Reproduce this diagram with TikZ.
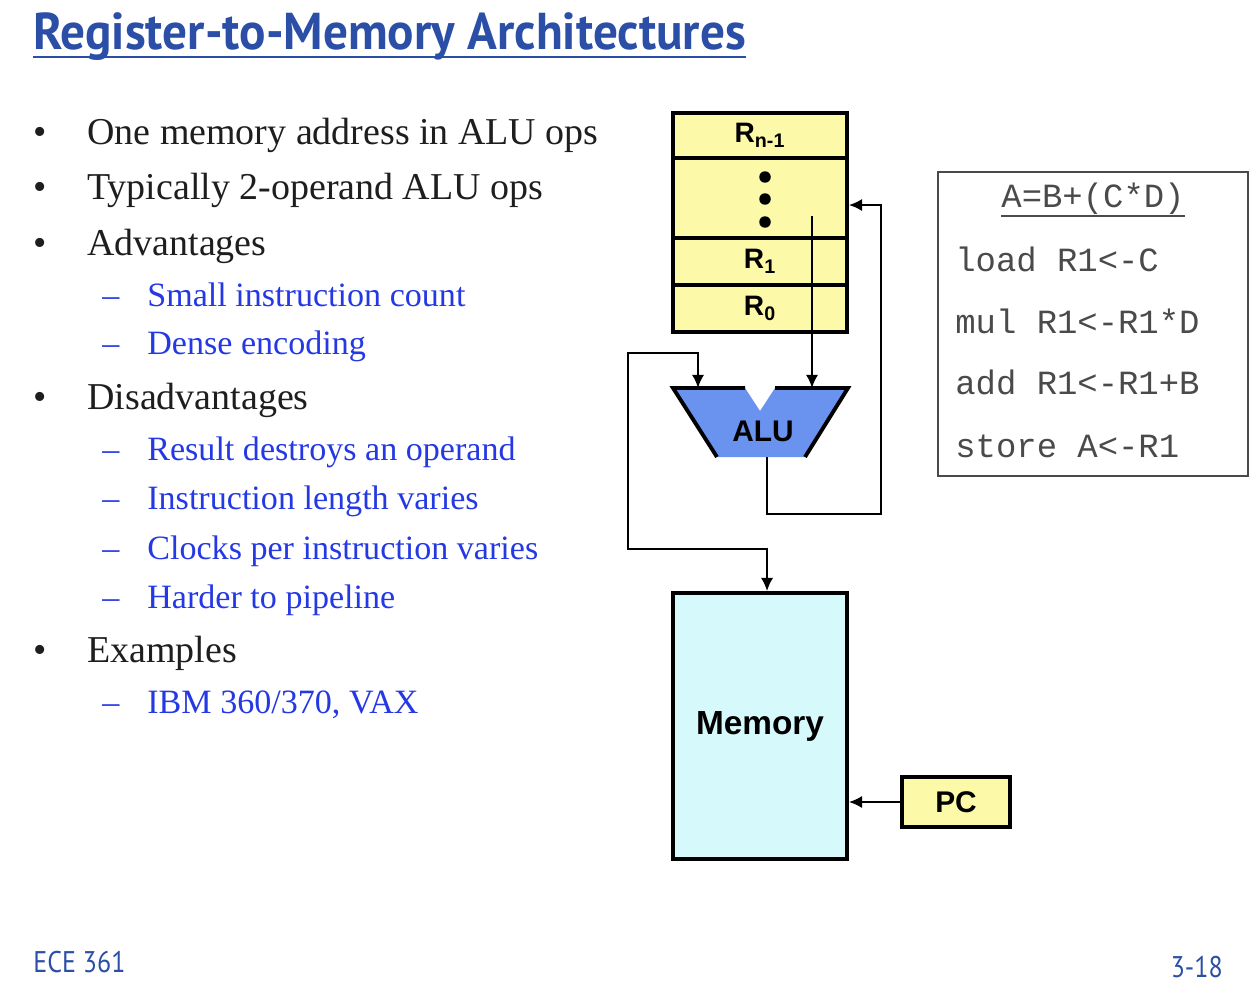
\documentclass[tikz,border=0pt]{standalone}
\usepackage{fontspec}
\setmainfont{Liberation Serif}
\setsansfont{Liberation Sans}
\setmonofont{Liberation Mono}
\newfontfamily\slidefont[FakeStretch=0.87]{PT Sans}
\newfontfamily\headfont[FakeStretch=0.95]{PT Sans}
\usepackage{tikz}
\usetikzlibrary{arrows.meta,positioning}
\definecolor{ink}{HTML}{1E1E1E}
\definecolor{titleblue}{HTML}{2B4EA6}
\definecolor{subblue}{HTML}{2438E4}
\definecolor{regyellow}{HTML}{FCF9A8}
\definecolor{alublue}{HTML}{6A93F0}
\definecolor{memcyan}{HTML}{D6FAFC}
\definecolor{codegray}{HTML}{4A4A4A}

\begin{document}
\begin{tikzpicture}[x=0.02cm,y=-0.02cm,
      main/.style={anchor=base west,inner sep=0pt,text=ink,
                   font=\fontsize{21.6}{26}\selectfont},
      sub/.style={anchor=base west,inner sep=0pt,text=subblue,
                  font=\fontsize{19.4}{23}\selectfont},
      bul/.style={anchor=base,inner sep=0pt,text=ink,
                  font=\fontsize{21.6}{26}\selectfont},
      dsh/.style={anchor=base,inner sep=0pt,text=subblue,
                  font=\fontsize{19.4}{23}\selectfont},
      blk/.style={draw,line width=2.2pt,inner sep=0pt,
                  font=\sffamily\bfseries\fontsize{16}{18}\selectfont},
      reg/.style={blk,fill=regyellow,minimum width=3.48cm},
      wire/.style={line width=1.2pt,-{Latex[length=7.5pt,width=7pt]}},
      code/.style={inner sep=0pt,text=codegray,
                   font=\ttfamily\fontsize{19.3}{22}\selectfont}]
    \useasboundingbox (0,0) rectangle (1256,1000);

    % title and footer
    \node[anchor=base west,inner sep=0pt,text=titleblue,
          font=\headfont\bfseries\fontsize{29.5}{33}\selectfont]
          (title) at (33,50) {Register-to-Memory Architectures};
    \draw[titleblue,line width=1.2pt] ([yshift=-4pt]title.base west)
      -- ([yshift=-4pt]title.base east);
    \node[anchor=base west,inner sep=0pt,text=titleblue,
          font=\slidefont\fontsize{17}{20}\selectfont] (course) at (33,972) {ECE 361};
    \node[anchor=base east,inner sep=0pt,text=titleblue,
          font=\slidefont\fontsize{17}{20}\selectfont] (page) at (1223,977) {3-18};

    % bullet list
    \foreach \y in {145,199,255,409,662}
      \node[bul] (m\y) at (40,\y) {•};
    \foreach \y in {306,354,460,509,559,608,713}
      \node[dsh] (d\y) at (111,\y) {–};
    \node[main] (one) at (87,145) {One memory address in ALU ops};
    \node[main] (typ) at (87,199) {Typically 2-operand ALU ops};
    \node[main] (adv) at (87,255) {Advantages};
    \node[sub] (cnt) at (147,306) {Small instruction count};
    \node[sub] (dense) at (147,354) {Dense encoding};
    \node[main] (dis) at (87,409) {Disadvantages};
    \node[sub] (res) at (147,460) {Result destroys an operand};
    \node[sub] (len) at (147,509) {Instruction length varies};
    \node[sub] (cpi) at (147,559) {Clocks per instruction varies};
    \node[sub] (pipe) at (147,608) {Harder to pipeline};
    \node[main] (ex) at (87,662) {Examples};
    \node[sub] (ibm) at (147,713) {IBM 360/370, VAX};

    % register file
    \node[reg,minimum height=0.9cm] (rn) at (760,135.5) {R\textsubscript{n-1}};
    \node[reg,minimum height=1.6cm] (rdots) at (760,198) {};
    \node[reg,minimum height=0.94cm] (r1) at (760,261.5) {R\textsubscript{1}};
    \node[reg,minimum height=0.94cm] (r0) at (760,308.5) {R\textsubscript{0}};
    \foreach \y in {177,199,222}
      \fill (765,\y) circle (0.115cm);

    % alu
    \fill[alublue] (673,388) -- (745,388) -- (760,411) -- (775,388)
      -- (848,388) -- (805,457) -- (717,457) -- cycle;
    \draw[line width=2.2pt,line join=miter] (745,388) -- (673,388) -- (717,457);
    \draw[line width=2.2pt,line join=miter] (775,388) -- (848,388) -- (805,457);
    \node[font=\sffamily\bfseries\fontsize{17}{20}\selectfont] (alu) at (763,431) {ALU};
    \coordinate (aluL) at (698,388);
    \coordinate (aluR) at (812,388);
    \coordinate (aluO) at (767,457);
    \coordinate (rtap) at (812,216);

    % memory, pc
    \node[blk,fill=memcyan,minimum width=3.48cm,minimum height=5.32cm,
          font=\sffamily\bfseries\fontsize{19}{22}\selectfont] (mem) at (760,726) {\raisebox{-3pt}{Memory}};
    \node[blk,fill=regyellow,minimum width=2.16cm,minimum height=1cm,
          font=\sffamily\bfseries\fontsize{17}{20}\selectfont] (pc) at (956,802) {PC};

    % wires
    \draw[wire] (rtap) -- (aluR);
    \draw[wire] (aluO) |- (881,514) |- ([yshift=-4pt]rdots.east);
    \draw[wire,{Latex[length=7.5pt,width=7pt]}-{Latex[length=7.5pt,width=7pt]}]
      (aluL) |- (628,353) -- (628,549) -| ([xshift=4pt]mem.north);
    \draw[wire] (pc.west) -- (mem.east |- pc.west);

    % code box
    \node[draw=codegray,line width=0.9pt,minimum width=6.2cm,
          minimum height=6.08cm] (prog) at (1093,324) {};
    \node[code,anchor=base] (expr) at (1093,207) {A=B+(C*D)};
    \draw[codegray,line width=1.1pt] ([yshift=-5pt]expr.base west)
      -- ([yshift=-5pt]expr.base east);
    \node[code,anchor=base west] (ld) at (955,271) {load R1<-C};
    \node[code,anchor=base west] (mul) at (955,333) {mul R1<-R1*D};
    \node[code,anchor=base west] (add) at (955,394) {add R1<-R1+B};
    \node[code,anchor=base west] (st) at (955,457) {store A<-R1};
  \end{tikzpicture}
\end{document}
